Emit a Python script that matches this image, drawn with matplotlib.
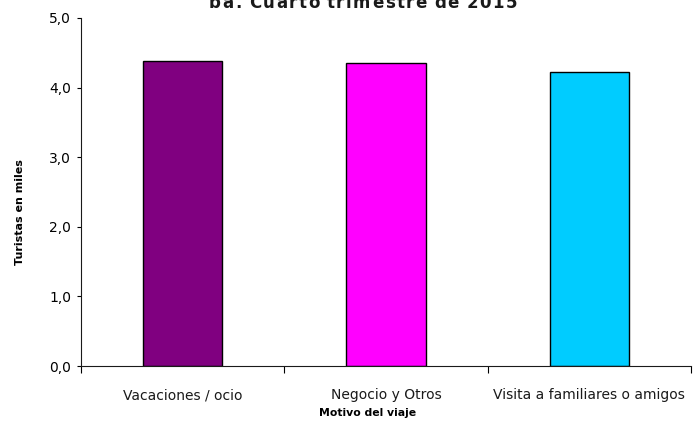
import matplotlib
matplotlib.use("Agg")
import matplotlib.pyplot as plt
from matplotlib.ticker import FuncFormatter

# data
motivos = ["Vacaciones / ocio", "Negocio y Otros", "Visita a familiares o amigos"]
turistas = [4.38, 4.36, 4.22]
colores = ["#800080", "#FF00FF", "#00CCFF"]
titulo = "ba. Cuarto trimestre de 2015"

plt.rcParams["font.family"] = ["DejaVu Sans"]

W, H = 698, 424
fig = plt.figure(figsize=(W / 100, H / 100), dpi=100)
ax = fig.add_axes([81 / W, 1 - 366 / H, (691 - 81) / W, (366 - 18) / H])

x = list(range(len(motivos)))
ax.bar(x, turistas, width=0.39, color=colores, edgecolor="black", linewidth=1.0, zorder=2)

ax.set_xlim(-0.5, len(motivos) - 0.5)
ax.set_ylim(0, 5)
ax.set_yticks([0, 1, 2, 3, 4, 5])
ax.yaxis.set_major_formatter(FuncFormatter(lambda v, _: f"{v:.1f}".replace(".", ",")))

# category labels sit between the boundary ticks
ax.set_xticks([i - 0.5 for i in range(len(motivos) + 1)])
ax.set_xticklabels([])
ax.set_xticks(x, minor=True)
ax.set_xticklabels(motivos, minor=True, fontsize=10, color="#1A1A1A")
ax.tick_params(axis="x", which="major", direction="out", length=5, width=0.8)
ax.tick_params(axis="x", which="minor", length=0, pad=16)
ax.tick_params(axis="y", direction="out", length=3, width=0.8, pad=4, labelsize=10)

for side in ("top", "right"):
    ax.spines[side].set_visible(False)
for side in ("left", "bottom"):
    ax.spines[side].set_linewidth(0.8)
    ax.spines[side].set_color("#1A1A1A")

# title is clipped by the top edge in the export and set with wide tracking,
# so lay it out char by char across the measured span
x0_px, x1_px, base_px = 209, 517, 8.5
fig.canvas.draw()
renderer = fig.canvas.get_renderer()
chars = []
for ch in titulo:
    t = fig.text(0, 0, ch, fontsize=12, fontweight="bold", va="baseline", color="#1A1A1A")
    w = t.get_window_extent(renderer).width if ch != " " else 0
    chars.append((t, ch, w))
space_w = 4.0
total = sum(w if ch != " " else space_w for _, ch, w in chars)
track = (x1_px - x0_px - total) / (len(chars) - 1)
pos = x0_px
for t, ch, w in chars:
    t.set_position((pos / W, 1 - base_px / H))
    pos += (w if ch != " " else space_w) + track

fig.text(20 / W, 1 - 212 / H, "Turistas en miles", fontsize=8, fontweight="bold",
         rotation=90, ha="center", va="center")
fig.text(368 / W, 1 - 413 / H, "Motivo del viaje", fontsize=7.8, fontweight="bold",
         ha="center", va="center")

fig.savefig("out.png", dpi=100, facecolor="white")
